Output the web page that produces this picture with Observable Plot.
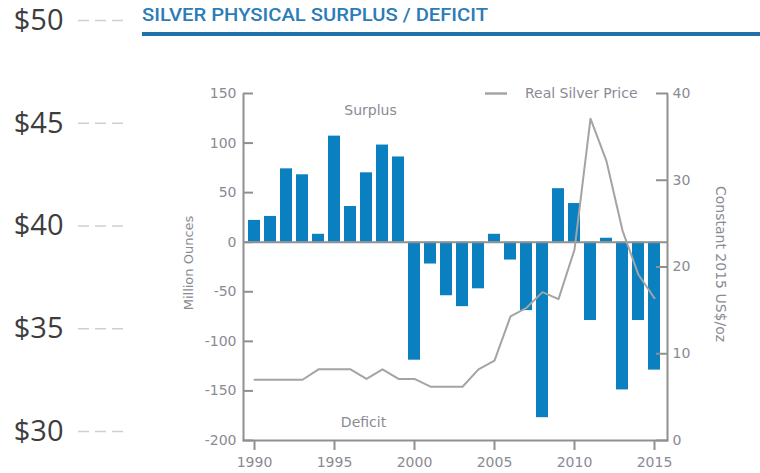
<!DOCTYPE html>
<html><head><meta charset="utf-8">
<script src="https://cdn.jsdelivr.net/npm/d3@7"></script>
<script src="https://cdn.jsdelivr.net/npm/@observablehq/plot@0.6"></script>
<style>
body{margin:0;background:#fff;}
#wrap{position:relative;width:760px;height:473px;overflow:hidden;background:#fff;}
#wrap > svg{position:absolute;left:0;top:0;}
</style></head><body><div id="wrap"></div>
<script>
// ---- data ----
const years = [1990,1991,1992,1993,1994,1995,1996,1997,1998,1999,2000,2001,2002,2003,2004,2005,2006,2007,2008,2009,2010,2011,2012,2013,2014,2015];
const surplus = [22,26,74,68,8,107,36,70,98,86,-119,-22,-54,-65,-47,8,-18,-69,-177,54,39,-79,4,-149,-79,-129];
const realPrice = [7.0,7.0,7.0,7.0,8.2,8.2,8.2,7.1,8.2,7.1,7.1,6.2,6.2,6.2,8.2,9.2,14.3,15.3,17.1,16.3,22.0,37.1,32.2,24.2,19.1,16.4];
const leftTicks = [-200,-150,-100,-50,0,50,100,150];
const rightTicks = [0,10,20,30,40];
const yearTicks = [1990,1995,2000,2005,2010,2015];
const priceLevels = [50,45,40,35,30];
const titleText = "SILVER PHYSICAL SURPLUS / DEFICIT";
const leftLabel = "Million Ounces";
const rightLabel = "Constant 2015 US$/oz";
const seriesLabel = "Real Silver Price";
const surplusLabel = "Surplus";
const deficitLabel = "Deficit";

// ---- helpers ----
const yDomain = [-200,150];
const priceDomain = [0,40];
const toLeft = v => yDomain[0] + (v - priceDomain[0]) * (yDomain[1]-yDomain[0])/(priceDomain[1]-priceDomain[0]);
const fromLeft = d => String(Math.round(priceDomain[0] + (d - yDomain[0]) * (priceDomain[1]-priceDomain[0])/(yDomain[1]-yDomain[0])));

const data = years.map((year,i)=>({year, surplus: surplus[i], price: realPrice[i]}));
const font = "DejaVu Sans, sans-serif";
const textColor = "#8a8a94";
const axisColor = "#909090";
const lineColor = "#a4a4a4";
const barColor = "#0a80c0";

const wrap = document.getElementById("wrap");
const frameW = 760 - 243 - 93;
const frameH = 473 - 93 - 33;

const main = Plot.plot({
  width:760, height:473,
  marginLeft:243, marginRight:93, marginTop:93, marginBottom:33,
  style:{fontFamily:font, fontSize:"14px", color:textColor, background:"transparent", overflow:"visible"},
  x:{type:"band", domain: years, range:[244,663], paddingInner:0.26, paddingOuter:0},
  y:{domain:yDomain},
  marks:[
    Plot.barY(data,{x:"year", y:"surplus", fill:barColor}),
    Plot.ruleY([0],{stroke:axisColor, strokeWidth:2}),
    Plot.line(data,{x:"year", y:d=>toLeft(d.price), stroke:lineColor, strokeWidth:2}),
    // axis lines (left, right, bottom) as thin frame strips
    Plot.frame({fill:axisColor, stroke:null, insetLeft:-1, insetRight:frameW-1}),
    Plot.frame({fill:axisColor, stroke:null, insetLeft:frameW-1, insetRight:-1}),
    Plot.frame({fill:axisColor, stroke:null, insetTop:frameH-1, insetBottom:-1, insetLeft:-1, insetRight:-1}),
    Plot.axisY(leftTicks,{anchor:"left", tickSize:-10, tickPadding:17, tickFormat:d=>String(d), stroke:axisColor, strokeWidth:2, fill:textColor, fontSize:14, label:null}),
    Plot.axisY(rightTicks.map(toLeft),{anchor:"right", tickSize:-12, tickPadding:17, tickFormat:fromLeft, stroke:axisColor, strokeWidth:2, fill:textColor, fontSize:14, label:null}),
    Plot.axisX(yearTicks,{anchor:"bottom", tickSize:10, tickPadding:7, tickFormat:d=>String(d), stroke:axisColor, strokeWidth:2, fill:textColor, fontSize:14, label:null}),
    Plot.ruleY([yDomain[1]],{insetLeft:242, insetRight:160, stroke:lineColor, strokeWidth:2.5}),
    Plot.text([seriesLabel],{frameAnchor:"top-right", dx:-30, textAnchor:"end", lineAnchor:"middle", fill:textColor, fontSize:14}),
    Plot.text([surplusLabel],{frameAnchor:"top-left", dx:127, dy:17, textAnchor:"middle", lineAnchor:"middle", fill:textColor, fontSize:14}),
    Plot.text([deficitLabel],{frameAnchor:"bottom-left", dx:120, dy:-18, textAnchor:"middle", lineAnchor:"middle", fill:textColor, fontSize:14}),
    Plot.text([leftLabel],{frameAnchor:"left", rotate:-90, dx:-55, dy:-4, textAnchor:"middle", lineAnchor:"middle", fill:textColor, fontSize:13}),
    Plot.text([rightLabel],{frameAnchor:"right", rotate:90, dx:53, dy:-3, textAnchor:"middle", lineAnchor:"middle", fill:textColor, fontSize:14})
  ]
});
wrap.appendChild(main);

const dollars = Plot.plot({
  width:140, height:473, marginLeft:78, marginRight:17, marginTop:20, marginBottom:42,
  style:{fontFamily:"'Open Sans', sans-serif", color:"#3d3d3d", background:"transparent", overflow:"visible"},
  y:{domain:[30,50]},
  marks:[
    Plot.ruleY(priceLevels,{stroke:"#cfcfcf", strokeWidth:1.5, strokeDasharray:"11,6"}),
    Plot.axisY(priceLevels,{anchor:"left", tickSize:0, tickPadding:15, tickFormat:d=>"$"+d, fontSize:29, fill:"#3d3d3d", label:null})
  ]
});
wrap.appendChild(dollars);

const t = d3.create("svg").attr("width",760).attr("height",45);
t.append("text").attr("x",142).attr("y",21)
  .attr("textLength",346).attr("lengthAdjust","spacingAndGlyphs")
  .attr("font-family","Roboto, 'DejaVu Sans Condensed', sans-serif")
  .attr("font-weight",500)
  .attr("font-size",18.5).attr("fill","#2b7cb7").text(titleText);
t.append("rect").attr("x",142).attr("y",32).attr("width",618).attr("height",4).attr("fill","#1f6fa8");
wrap.appendChild(t.node());
</script></body></html>
